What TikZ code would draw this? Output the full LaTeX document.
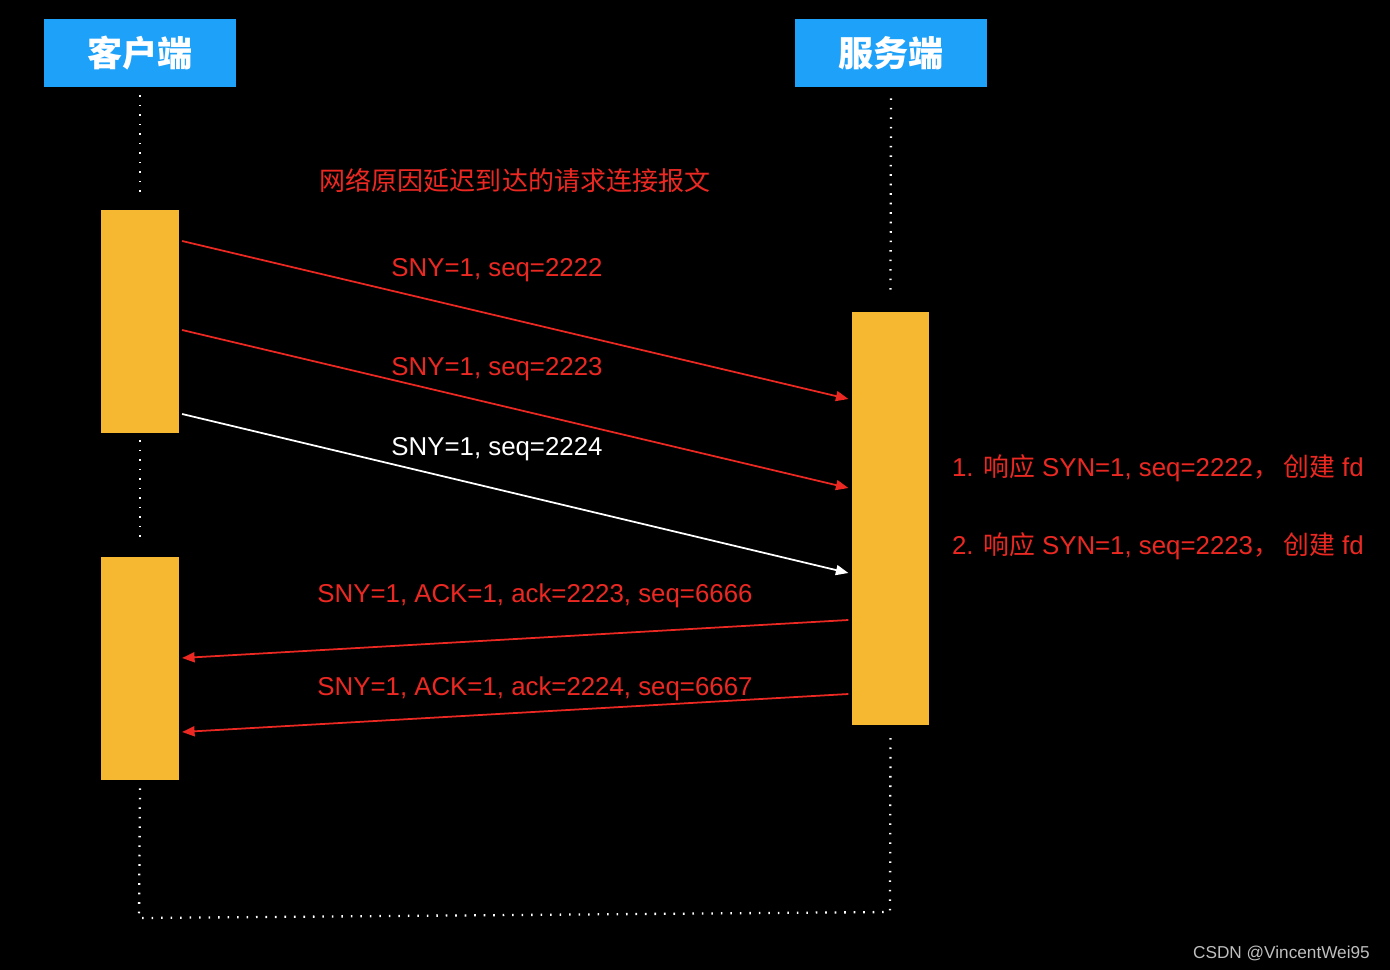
\documentclass[tikz,border=0pt]{standalone}
\usepackage{fontspec}
\setmainfont{Liberation Sans}
\newfontfamily\cjk{Noto Sans CJK SC}
\usetikzlibrary{arrows.meta, calc}

\definecolor{headblue}{RGB}{30,161,249}
\definecolor{baryellow}{RGB}{246,184,48}
\definecolor{msgred}{RGB}{236,40,34}

\begin{document}
\begin{tikzpicture}[x=0.02cm, y=-0.02cm,
  head/.style={fill=headblue, minimum width=3.84cm, minimum height=1.36cm, inner sep=0pt,
               font=\cjk\bfseries\fontsize{20}{24}\selectfont, text=white},
  bar/.style={fill=baryellow, minimum width=1.55cm, inner sep=0pt},
  life/.style={white, line width=1.3pt, dash pattern=on 0.9pt off 4.5pt},
  msg/.style={-{Triangle[length=2.5mm, width=2mm]}, msgred, line width=1pt},
  lbl/.style={font=\fontsize{14.7}{17}\selectfont, text=msgred, inner sep=1pt},
]
  % background and frame
  \fill[black] (0,0) rectangle (1390,970);

  \node[head] (ch) at (140,53) {客户端};
  \node[head] (sh) at (891,53) {服务端};

  \node[bar, minimum height=4.46cm] (cb1) at (140,321.5) {};
  \node[bar, minimum height=4.46cm] (cb2) at (140,668.5) {};
  \node[bar, minimum height=8.26cm] (sb) at (890.5,518.5) {};

  % lifelines
  \coordinate (cl) at (139,918);
  \coordinate (sl) at (890,912);
  \draw[life] ([yshift=-0.16cm]ch.south) -- ([yshift=0.36cm]cb1.north);
  \draw[life] ([yshift=-0.14cm]cb1.south) -- ([yshift=0.34cm]cb2.north);
  \draw[life] ([yshift=-0.16cm]cb2.south) -- (cl) -- (sl) -- ([yshift=-0.14cm]sb.south);
  \draw[life] ([yshift=-0.22cm]sh.south) -- ([yshift=0.3cm]sb.north);

  \node[lbl, font=\cjk\fontsize{14.8}{17}\selectfont] (delay) at (515,181) {网络原因延迟到达的请求连接报文};

  % requests
  \draw[msg] ([xshift=0.06cm]cb1.east |- 0,241) -- ([xshift=-0.06cm]sb.west |- 0,399);
  \draw[msg] ([xshift=0.06cm]cb1.east |- 0,330) -- ([xshift=-0.06cm]sb.west |- 0,488);
  \draw[msg, white] ([xshift=0.06cm]cb1.east |- 0,414) -- ([xshift=-0.06cm]sb.west |- 0,573);
  \node[lbl] (s1) at (497,270) {SNY=1, seq=2222};
  \node[lbl] (s2) at (497,369) {SNY=1, seq=2223};
  \node[lbl, text=white] (s3) at (497,449) {SNY=1, seq=2224};

  % replies
  \draw[msg] ([xshift=-0.06cm]sb.west |- 0,620) -- ([xshift=0.06cm]cb2.east |- 0,658);
  \draw[msg] ([xshift=-0.06cm]sb.west |- 0,694) -- ([xshift=0.06cm]cb2.east |- 0,732);
  \node[lbl] (r1) at (535,596) {SNY=1, ACK=1, ack=2223, seq=6666};
  \node[lbl] (r2) at (535,689) {SNY=1, ACK=1, ack=2224, seq=6667};

  % server notes
  \node[lbl, anchor=west] (n1) at (950,468) {1. {\cjk 响应} SYN=1, seq=2222{\cjk ，}\,{\cjk 创建} fd};
  \node[lbl, anchor=west] (n2) at (950,546) {2. {\cjk 响应} SYN=1, seq=2223{\cjk ，}\,{\cjk 创建} fd};

  \node[font=\fontsize{9.8}{12}\selectfont, text=black!25!white, anchor=east] (mark) at (1376,953) {CSDN @VincentWei95};
\end{tikzpicture}
\end{document}
